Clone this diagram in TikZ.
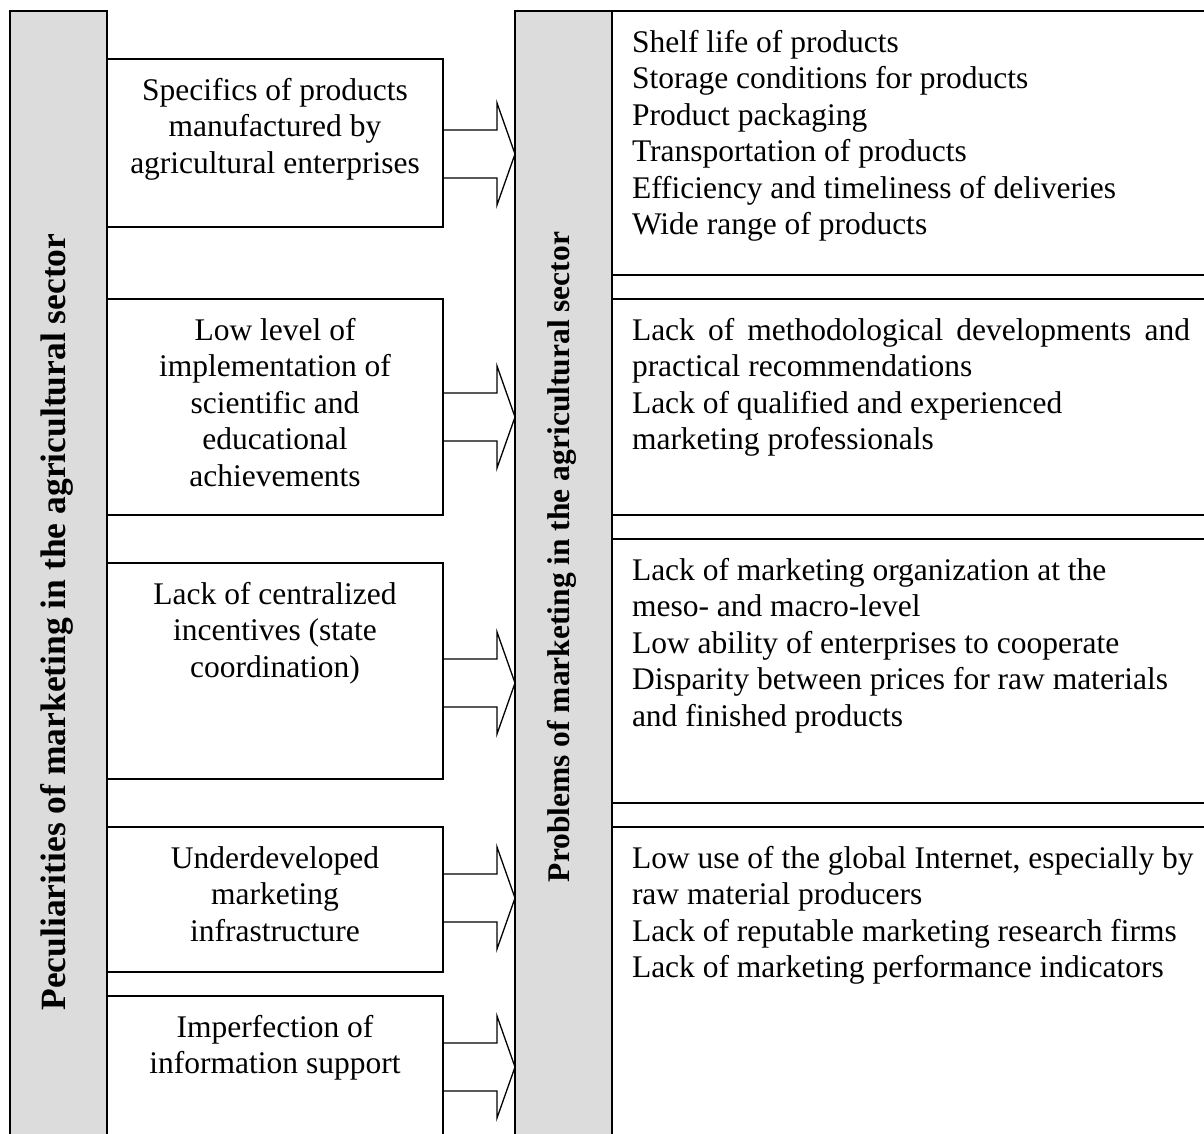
\documentclass[tikz,border=0pt]{standalone}
\usepackage{fontspec}
\setmainfont{Liberation Serif}
\definecolor{barfill}{RGB}{220,220,220}
\begin{document}
\begin{tikzpicture}[x=1pt,y=-1pt,
  every node/.style={inner sep=0pt, outer sep=0pt},
  bodyfont/.style={font=\fontsize{31.5}{36.5}\selectfont},
  headfont/.style={font=\fontsize{31.5}{36.5}\selectfont\bfseries},
  bigheadfont/.style={font=\fontsize{35.5}{40}\selectfont\bfseries},
  frame/.style={draw, line width=1.3pt},
  panel/.style={frame, fill=barfill, anchor=north west},
  itembox/.style={frame, fill=white, anchor=north west},
  lefttext/.style={bodyfont, align=center, anchor=north},
  righttext/.style={bodyfont, align=left, anchor=north west},
  fatarrow/.style={line width=1.3pt, line join=miter}]
\useasboundingbox (0,0) rectangle (1204,1133);
\clip (0,0) rectangle (1204,1133);

% the two grey title bars
\node[panel, minimum width=97pt, minimum height=1160pt] (lbar) at (10,11) {};
\node[panel, minimum width=97pt, minimum height=1160pt] (rbar) at (515,11) {};
\node[bigheadfont, rotate=90] (ltitle) at (57,622) {Peculiarities of marketing in the agricultural sector};
\node[headfont, rotate=90] (rtitle) at (562,557) {Problems of marketing in the agricultural sector};

% peculiarities
\node[itembox, minimum width=336pt, minimum height=168pt] (l1) at (107,59) {};
\node[itembox, minimum width=336pt, minimum height=216pt] (l2) at (107,299) {};
\node[itembox, minimum width=336pt, minimum height=216pt] (l3) at (107,563) {};
\node[itembox, minimum width=336pt, minimum height=145pt] (l4) at (107,827) {};
\node[itembox, minimum width=336pt, minimum height=200pt] (l5) at (107,996) {};

\node[lefttext] (l1t) at ([yshift=-15.5pt]l1.north) {\strut Specifics of products\\manufactured by\\agricultural enterprises};
\node[lefttext] (l2t) at ([yshift=-15.5pt]l2.north) {\strut Low level of\\implementation of\\scientific and\\educational\\achievements};
\node[lefttext] (l3t) at ([yshift=-15.5pt]l3.north) {\strut Lack of centralized\\incentives (state\\coordination)};
\node[lefttext] (l4t) at ([yshift=-15.5pt]l4.north) {\strut Underdeveloped\\marketing\\infrastructure};
\node[lefttext] (l5t) at ([yshift=-15.5pt]l5.north) {\strut Imperfection of\\information support};

% problems
\node[itembox, minimum width=640pt, minimum height=264pt] (r1) at (612,11) {};
\node[itembox, minimum width=640pt, minimum height=216pt] (r2) at (612,299) {};
\node[itembox, minimum width=640pt, minimum height=264pt] (r3) at (612,539) {};
\node[itembox, minimum width=640pt, minimum height=400pt] (r4) at (612,827) {};

\node[righttext] (r1t) at ([xshift=20pt,yshift=-15.5pt]r1.north west) {\strut Shelf life of products\\Storage conditions for products\\Product packaging\\Transportation of products\\Efficiency and timeliness of deliveries\\Wide range of products};
\node[righttext] (r2t) at ([xshift=20pt,yshift=-15.5pt]r2.north west) {\strut\makebox[558pt][s]{Lack of methodological developments and}\\practical recommendations\\Lack of qualified and experienced\\marketing professionals};
\node[righttext] (r3t) at ([xshift=20pt,yshift=-15.5pt]r3.north west) {\strut Lack of marketing organization at the\\meso- and macro-level\\Low ability of enterprises to cooperate\\Disparity between prices for raw materials\\and finished products};
\node[righttext] (r4t) at ([xshift=20pt,yshift=-15.5pt]r4.north west) {\strut Low use of the global Internet, especially by\\raw material producers\\Lack of reputable marketing research firms\\Lack of marketing performance indicators};

% block arrows from each peculiarity to the problems bar
\foreach \n/\t in {l1/154, l2/417, l3/683, l4/898, l5/1067} {
  \draw[fatarrow] (\n.east |- 0,\t-24) -- ++(54,0) -- ++(0,-27)
    -- (rbar.west |- 0,\t) -- ([xshift=-18pt]rbar.west |- 0,\t+51)
    -- ++(0,-27) -- (\n.east |- 0,\t+24);
}
\end{tikzpicture}
\end{document}
